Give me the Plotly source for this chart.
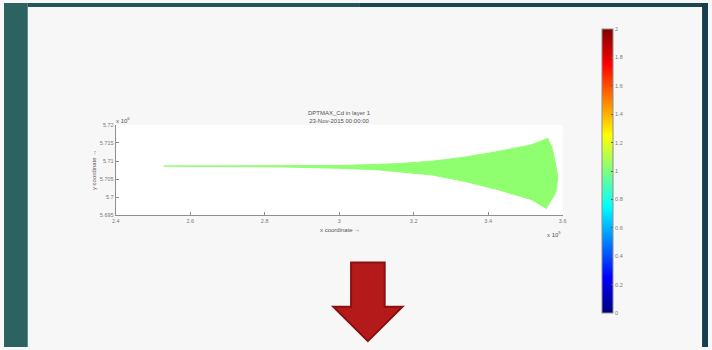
import plotly.graph_objects as go

W, H = 712, 350

# Outline of the DPTMAX_Cd region (x in units of 1e5, y in units of 1e6)
upper_x = [2.529, 2.70, 2.85, 3.00, 3.10, 3.162, 3.25, 3.339, 3.427, 3.516, 3.560]
upper_y = [5.70862, 5.70864, 5.70868, 5.70876, 5.70905, 5.70932, 5.70995, 5.71111, 5.71266, 5.71448, 5.71628]
front_x = [3.571, 3.578, 3.587, 3.582, 3.573]
front_y = [5.7138, 5.7107, 5.7057, 5.7016, 5.6998]
lower_x = [3.556, 3.516, 3.427, 3.339, 3.25, 3.162, 3.10, 3.00, 2.85, 2.70, 2.529]
lower_y = [5.69691, 5.69935, 5.70207, 5.70432, 5.70614, 5.70704, 5.70760, 5.70800, 5.70838, 5.70848, 5.70852]

x_ticks = [2.4, 2.6, 2.8, 3.0, 3.2, 3.4, 3.6]
x_tick_text = ["2.4", "2.6", "2.8", "3", "3.2", "3.4", "3.6"]
y_ticks = [5.695, 5.70, 5.705, 5.71, 5.715, 5.72]
y_tick_text = ["5.695", "5.7", "5.705", "5.71", "5.715", "5.72"]
cbar_ticks = [0, 0.2, 0.4, 0.6, 0.8, 1.0, 1.2, 1.4, 1.6, 1.8, 2.0]
cbar_tick_text = ["0", "0.2", "0.4", "0.6", "0.8", "1", "1.2", "1.4", "1.6", "1.8", "2"]

jet = [[0, "rgb(0,0,128)"], [0.125, "rgb(0,0,255)"], [0.375, "rgb(0,255,255)"],
       [0.625, "rgb(255,255,0)"], [0.875, "rgb(255,0,0)"], [1, "rgb(128,0,0)"]]

FONT = "Liberation Sans"
GREY = "#7a7a7a"
AXIS = "#8e8e8e"


def px(x):
    return x / W


def py(y):
    return 1 - y / H


fig = go.Figure()

poly_x = upper_x + front_x + lower_x + [upper_x[0]]
poly_y = upper_y + front_y + lower_y + [upper_y[0]]
fig.add_trace(go.Scatter(
    x=poly_x, y=poly_y, mode="lines", fill="toself",
    fillcolor="rgb(143,255,112)", line=dict(color="rgb(143,255,112)", width=1),
    hoverinfo="skip", showlegend=False,
))

# colour scale for the layer value
fig.add_trace(go.Scatter(
    x=[None], y=[None], mode="markers", showlegend=False, hoverinfo="skip",
    marker=dict(color=[0], cmin=0, cmax=2, colorscale=jet, showscale=True,
                colorbar=dict(
                    x=px(605), xanchor="left", xpad=0, ypad=0,
                    y=py(171), yanchor="middle",
                    thickness=11, thicknessmode="pixels",
                    len=284, lenmode="pixels",
                    outlinewidth=1, outlinecolor=AXIS,
                    tickmode="array", tickvals=cbar_ticks, ticktext=cbar_tick_text,
                    ticks="inside", ticklen=2, tickcolor="#555",
                    tickfont=dict(family=FONT, size=5.5, color=GREY),
                )),
))

shapes = [
    # teal frame around the slide panel
    dict(type="rect", xref="paper", yref="paper", x0=0, x1=px(24), y0=0, y1=1,
         fillcolor="#2c6361", line_width=0, layer="below"),
    dict(type="rect", xref="paper", yref="paper", x0=px(24), x1=px(360), y0=py(4), y1=1,
         fillcolor="#245658", line_width=0, layer="below"),
    dict(type="rect", xref="paper", yref="paper", x0=px(360), x1=1, y0=py(4), y1=1,
         fillcolor="#1b4650", line_width=0, layer="below"),
    dict(type="rect", xref="paper", yref="paper", x0=px(706), x1=1, y0=0, y1=1,
         fillcolor="#153f4c", line_width=0, layer="below"),
    # down arrow
    dict(type="path", xref="paper", yref="paper",
         path=(f"M {px(351)} {py(264)} L {px(385)} {py(264)} L {px(385)} {py(309)} "
               f"L {px(403)} {py(309)} L {px(368)} {py(344)} L {px(333)} {py(309)} "
               f"L {px(351)} {py(309)} Z"),
         fillcolor="#b41a1a", line=dict(color="#8a1010", width=2)),
]

ann_font = dict(family=FONT, size=6, color="#555")
annotations = [
    dict(text="DPTMAX_Cd in layer 1<br>23-Nov-2015 00:00:00", x=px(339), y=py(115.5),
         xref="paper", yref="paper", showarrow=False, font=ann_font,
         xanchor="center", yanchor="middle"),
    dict(text="x coordinate \u2192", x=px(340), y=py(230.5), xref="paper", yref="paper",
         showarrow=False, font=ann_font, xanchor="center", yanchor="middle"),
    dict(text="y coordinate \u2192", x=px(91), y=py(170), xref="paper", yref="paper",
         showarrow=False, font=ann_font, textangle=-90, xanchor="center", yanchor="middle"),
    dict(text="x 10<sup>5</sup>", x=px(556), y=py(235), xref="paper", yref="paper",
         showarrow=False, font=ann_font, xanchor="center", yanchor="middle"),
    dict(text="x 10<sup>6</sup>", x=px(120), y=py(119), xref="paper", yref="paper",
         showarrow=False, font=ann_font, xanchor="center", yanchor="middle"),
]

axis_common = dict(
    showgrid=False, zeroline=False, showline=True, linecolor=AXIS, linewidth=1,
    ticks="inside", ticklen=3, tickcolor=AXIS,
    tickfont=dict(family=FONT, size=5.5, color=GREY), tickmode="array",
)

fig.update_layout(
    width=W, height=H, margin=dict(l=0, r=0, t=0, b=0),
    paper_bgcolor="#f7f7f7", plot_bgcolor="white",
    xaxis=dict(domain=[px(113), px(565)], range=[2.4, 3.6],
               tickvals=x_ticks, ticktext=x_tick_text, **axis_common),
    yaxis=dict(domain=[py(216), py(124)], range=[5.695, 5.72],
               tickvals=y_ticks, ticktext=y_tick_text, **axis_common),
    shapes=shapes, annotations=annotations, showlegend=False,
)

fig.write_html("out.html")
